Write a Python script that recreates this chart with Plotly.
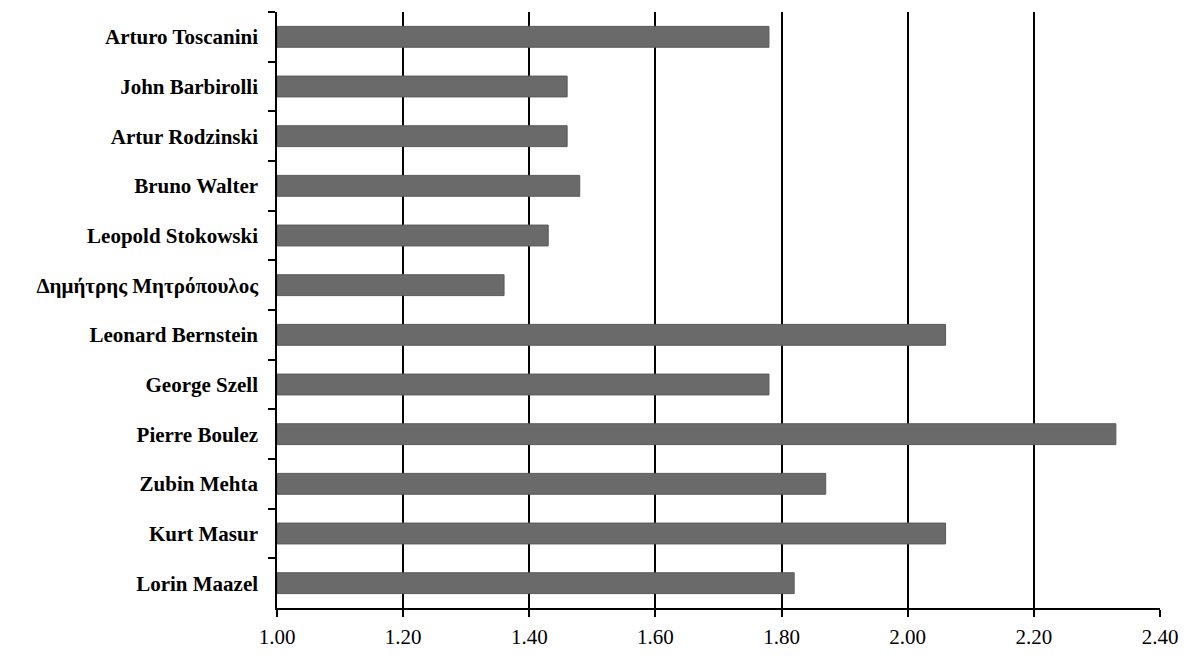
import plotly.graph_objects as go

conductors = [
    "Arturo Toscanini", "John Barbirolli", "Artur Rodzinski", "Bruno Walter",
    "Leopold Stokowski", "Δημήτρης Μητρόπουλος", "Leonard Bernstein",
    "George Szell", "Pierre Boulez", "Zubin Mehta", "Kurt Masur", "Lorin Maazel",
]
values = [1.78, 1.46, 1.46, 1.48, 1.43, 1.36, 2.06, 1.78, 2.33, 1.87, 2.06, 1.82]
tick_vals = [1.0, 1.2, 1.4, 1.6, 1.8, 2.0, 2.2, 2.4]
tick_text = ["1.00", "1.20", "1.40", "1.60", "1.80", "2.00", "2.20", "2.40"]

base = 1.0
fig = go.Figure()
fig.add_trace(go.Bar(
    y=conductors,
    x=[v - base for v in values],
    base=base,
    orientation="h",
    marker=dict(color="#6a6a6a", line=dict(color="#5a5a5a", width=1)),
    hoverinfo="y+x",
))

fig.update_layout(
    width=1194, height=670,
    margin=dict(l=269, r=42, t=4, b=70, autoexpand=False),
    plot_bgcolor="white", paper_bgcolor="white",
    bargap=0.58,
    showlegend=False,
    font=dict(family="Liberation Serif, Times New Roman, serif", color="black", size=21),
)
fig.update_xaxes(
    range=[1.0, 2.4],
    tickvals=tick_vals, ticktext=tick_text,
    showgrid=True, gridcolor="black", gridwidth=1.5,
    showline=True, linecolor="black", linewidth=1.5,
    ticks="outside", ticklen=7, tickwidth=1.5, tickcolor="black",
    ticklabelstandoff=2,
    zeroline=False,
    tickfont=dict(family="Liberation Serif, Times New Roman, serif", size=21),
)
fig.update_yaxes(
    categoryorder="array", categoryarray=conductors,
    autorange="reversed",
    showgrid=False,
    showline=True, linecolor="black", linewidth=1.5,
    ticks="outside", tickson="boundaries", ticklen=7, tickwidth=1.5, tickcolor="black",
    ticklabelstandoff=13,
    tickfont=dict(family="Liberation Serif, Times New Roman, serif", size=21, weight="bold"),
)

fig.write_html("out.html")
